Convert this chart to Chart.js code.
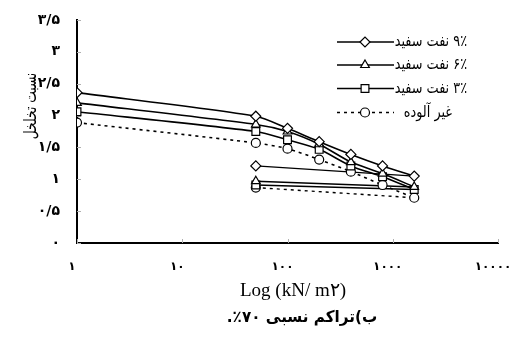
<!DOCTYPE html>
<html><head><meta charset="utf-8">
<script src="https://cdn.jsdelivr.net/npm/chart.js@4/dist/chart.umd.min.js"></script>
<style>html,body{margin:0;padding:0;background:#fff}#wrap{width:512px;height:338px;position:relative}</style>
</head><body><div id="wrap"><canvas id="c" width="512" height="338"></canvas></div>
<script>
// ---- data ----
const loadX = [1, 50, 100, 200, 400, 800, 1600];
const oil9Load = [2.36, 1.99, 1.80, 1.59, 1.39, 1.21, 1.05];
const oil6Load = [2.20, 1.86, 1.75, 1.55, 1.27, 1.09, 0.88];
const oil3Load = [2.06, 1.75, 1.62, 1.47, 1.21, 1.04, 0.84];
const cleanLoad = [1.89, 1.57, 1.48, 1.31, 1.12, 0.91, 0.71];
const unloadX = [50, 1600];
const oil9Unload = [1.21, 1.05];
const oil6Unload = [0.97, 0.88];
const oil3Unload = [0.91, 0.84];
const cleanUnload = [0.87, 0.71];
const seriesNames = ['۹٪ نفت سفید', '۶٪ نفت سفید', '۳٪ نفت سفید', 'غیر آلوده'];
const yTickValues = [0, 0.5, 1, 1.5, 2, 2.5, 3, 3.5];
const yTickLabels = ['۰', '۰/۵', '۱', '۱/۵', '۲', '۲/۵', '۳', '۳/۵'];
const xTickValues = [1, 10, 100, 1000, 10000];
const xTickLabels = ['۱', '۱۰', '۱۰۰', '۱۰۰۰', '۱۰۰۰۰'];
const yTitle = 'نسبت تخلخل';
const xTitle = 'Log (kN/ m۲)';
const caption = 'ب)تراکم نسبی ۷۰٪.';

const styles = [
  {pointStyle: 'rectRot', radius: 5, dash: []},
  {pointStyle: 'triangle', radius: 5, dash: []},
  {pointStyle: 'rect', radius: 5.5, dash: []},
  {pointStyle: 'circle', radius: 4.5, dash: [3, 4]}
];
const loads = [oil9Load, oil6Load, oil3Load, cleanLoad];
const unloads = [oil9Unload, oil6Unload, oil3Unload, cleanUnload];

const pts = (xs, ys) => xs.map((x, i) => ({x: x, y: ys[i]}));
const datasets = [];
loads.forEach((ys, k) => {
  const s = styles[k];
  datasets.push({
    label: seriesNames[k], data: pts(loadX, ys),
    borderColor: '#000', borderWidth: 1.6, borderDash: s.dash,
    pointStyle: s.pointStyle, pointRadius: s.radius, pointBorderWidth: 1.2,
    pointBackgroundColor: '#fff', pointBorderColor: '#000', tension: 0.25, showLine: true
  });
});
unloads.forEach((ys, k) => {
  const s = styles[k];
  datasets.push({
    label: '', data: pts(unloadX, ys),
    borderColor: '#000', borderWidth: 1.4, borderDash: s.dash,
    pointStyle: s.pointStyle, pointRadius: [s.radius, 0], pointBorderWidth: 1.2,
    pointBackgroundColor: '#fff', pointBorderColor: '#000', tension: 0, showLine: true
  });
});

const fa = '"DejaVu Sans", sans-serif';

function scaledText(ctx, text, x, y, sx) {
  ctx.save();
  ctx.translate(x, y);
  ctx.scale(sx, 1);
  ctx.fillText(text, 0, 0);
  ctx.restore();
}

const decor = {
  id: 'decor',
  beforeDatasetsDraw(chart) {
    const ctx = chart.ctx, xs = chart.scales.x, ys = chart.scales.y, a = chart.chartArea;
    ctx.save();
    ctx.strokeStyle = '#b0b0b0'; ctx.lineWidth = 1;
    xTickValues.forEach(v => {
      const px = Math.round(xs.getPixelForValue(v)) + 0.5;
      ctx.beginPath(); ctx.moveTo(px, a.bottom); ctx.lineTo(px, a.bottom - 4); ctx.stroke();
    });
    yTickValues.forEach(v => {
      const py = Math.round(ys.getPixelForValue(v)) + 0.5;
      ctx.beginPath(); ctx.moveTo(a.left, py); ctx.lineTo(a.left + 4, py); ctx.stroke();
    });
    ctx.restore();
  },
  afterDraw(chart) {
    const ctx = chart.ctx;
    ctx.save();
    ctx.fillStyle = '#000';
    // y title
    ctx.font = '17px ' + fa;
    ctx.textAlign = 'center'; ctx.textBaseline = 'middle';
    ctx.direction = 'rtl';
    ctx.save();
    ctx.translate(32, 106); ctx.rotate(-Math.PI / 2);
    scaledText(ctx, yTitle, 0, 0, 0.72);
    ctx.restore();
    // x title
    ctx.direction = 'ltr';
    ctx.font = '19px "Liberation Serif", serif';
    ctx.fillText(xTitle, 293, 291);
    // caption
    ctx.direction = 'rtl';
    ctx.font = 'bold 16px ' + fa;
    scaledText(ctx, caption, 302, 318, 0.95);
    // legend
    const rowsY = [42, 65, 88.5, 112.5];
    chart.data.datasets.slice(0, 4).forEach((ds, k) => {
      const y = rowsY[k];
      ctx.strokeStyle = '#000'; ctx.lineWidth = 1.3;
      ctx.setLineDash(styles[k].dash);
      ctx.beginPath(); ctx.moveTo(337, y); ctx.lineTo(394, y); ctx.stroke();
      ctx.setLineDash([]);
      ctx.fillStyle = '#fff'; ctx.lineWidth = 1.2;
      Chart.helpers.drawPoint(ctx, {pointStyle: styles[k].pointStyle, radius: styles[k].radius, borderWidth: 1.2}, 365, y);
      ctx.fillStyle = '#000';
      ctx.font = '16px ' + fa;
      ctx.direction = 'rtl';
      ctx.textAlign = 'right'; ctx.textBaseline = 'middle';
      scaledText(ctx, ds.label, k === 3 ? 452 : 467, y, 0.8);
    });
    ctx.restore();
  }
};

new Chart(document.getElementById('c'), {
  type: 'scatter',
  data: {datasets: datasets},
  options: {
    responsive: false, animation: false,
    layout: {padding: {top: 20, right: 14, left: 0, bottom: 0}},
    plugins: {legend: {display: false}, tooltip: {enabled: false}},
    scales: {
      x: {
        type: 'logarithmic', min: 1, max: 10000,
        afterBuildTicks: s => { s.ticks = xTickValues.map(v => ({value: v, major: true})); },
        afterFit: s => { s.height = 95; s.paddingRight = 0; s.paddingLeft = 0; },
        grid: {display: false},
        border: {display: true, color: '#000', width: 2},
        ticks: {
          autoSkip: false, maxRotation: 0, padding: 9, color: '#000', labelOffset: -5,
          font: {family: fa, size: 12, weight: 'bold'},
          callback: (v, i) => xTickLabels[i]
        }
      },
      y: {
        type: 'linear', min: 0, max: 3.5,
        afterBuildTicks: s => { s.ticks = yTickValues.map(v => ({value: v})); },
        afterFit: s => { s.width = 77; },
        grid: {display: false},
        border: {display: true, color: '#000', width: 2},
        ticks: {
          padding: 9, color: '#000',
          font: {family: fa, size: 14, weight: 'bold'},
          callback: (v, i) => yTickLabels[i]
        }
      }
    }
  },
  plugins: [decor]
});
</script></body></html>
